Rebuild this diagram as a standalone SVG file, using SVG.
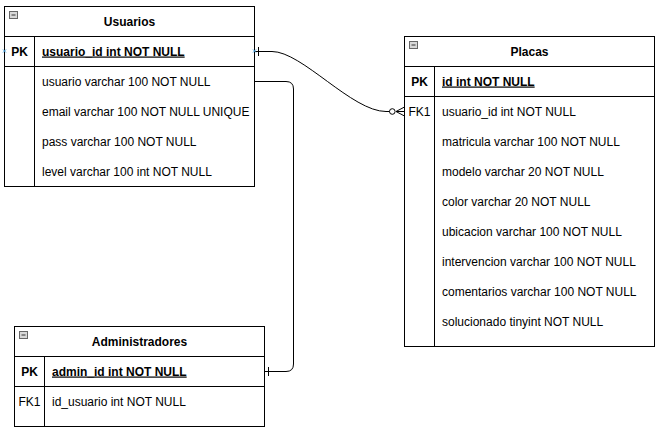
<svg xmlns="http://www.w3.org/2000/svg" width="662" height="432" viewBox="0 0 662 432">
<style>
.box{fill:#fff;stroke:#000;stroke-width:1}
.ln{stroke:#000;stroke-width:1;fill:none}
.t{font-family:"Liberation Sans",Arial,sans-serif;font-size:12px;fill:#000}
.b{font-weight:bold}
.u{text-decoration:underline}
.title{font-family:"Liberation Sans",Arial,sans-serif;font-size:12px;font-weight:bold;text-anchor:middle;fill:#000}
.c{text-anchor:middle}
.icon{fill:#d8d8d8;stroke:#666;stroke-width:1}
.x{stroke:#4aa3df;stroke-width:1}
</style>
<defs>
<g id="minus">
<rect class="icon" x="0" y="0" width="8" height="7"/>
<line x1="2" y1="3.5" x2="6" y2="3.5" stroke="#333" stroke-width="1"/>
</g>
</defs>
<rect width="662" height="432" fill="#fff"/>

<g id="usuarios">
<rect class="box" x="4.5" y="6.5" width="250" height="180"/>
<line class="ln" x1="4.5" y1="36.5" x2="254.5" y2="36.5"/>
<line class="ln" x1="4.5" y1="66.5" x2="254.5" y2="66.5"/>
<line class="ln" x1="34.5" y1="36.5" x2="34.5" y2="186.5"/>
<use href="#minus" x="9.5" y="11.5"/>
<text class="title" x="129.5" y="25.5">Usuarios</text>
<text class="t b c" x="19.5" y="55.5">PK</text>
<text class="t b u" x="42" y="55.5">usuario_id int NOT NULL</text>
<text class="t" x="42" y="85.5">usuario varchar 100 NOT NULL</text>
<text class="t" x="42" y="115.5">email varchar 100 NOT NULL UNIQUE</text>
<text class="t" x="42" y="145.5">pass varchar 100 NOT NULL</text>
<text class="t" x="42" y="175.5">level varchar 100 int NOT NULL</text>
<path class="x" d="M3 49.5l3 3M6 49.5l-3 3"/>
</g>

<g id="placas">
<rect class="box" x="404.5" y="36.5" width="250" height="310"/>
<line class="ln" x1="404.5" y1="66.5" x2="654.5" y2="66.5"/>
<line class="ln" x1="404.5" y1="96.5" x2="654.5" y2="96.5"/>
<line class="ln" x1="434.5" y1="66.5" x2="434.5" y2="346.5"/>
<use href="#minus" x="409.5" y="41.5"/>
<text class="title" x="529.5" y="55.5">Placas</text>
<text class="t b c" x="419.5" y="85.5">PK</text>
<text class="t b u" x="442" y="85.5">id int NOT NULL</text>
<text class="t c" x="419.5" y="115.5">FK1</text>
<text class="t" x="442" y="115.5">usuario_id int NOT NULL</text>
<text class="t" x="442" y="145.5">matricula varchar 100 NOT NULL</text>
<text class="t" x="442" y="175.5">modelo varchar 20 NOT NULL</text>
<text class="t" x="442" y="205.5">color varchar 20 NOT NULL</text>
<text class="t" x="442" y="235.5">ubicacion varchar 100 NOT NULL</text>
<text class="t" x="442" y="265.5">intervencion varchar 100 NOT NULL</text>
<text class="t" x="442" y="295.5">comentarios varchar 100 NOT NULL</text>
<text class="t" x="442" y="325.5">solucionado tinyint NOT NULL</text>
</g>

<g id="administradores">
<rect class="box" x="14.5" y="326.5" width="250" height="100"/>
<line class="ln" x1="14.5" y1="356.5" x2="264.5" y2="356.5"/>
<line class="ln" x1="14.5" y1="386.5" x2="264.5" y2="386.5"/>
<line class="ln" x1="44.5" y1="356.5" x2="44.5" y2="426.5"/>
<use href="#minus" x="19.5" y="331.5"/>
<text class="title" x="139.5" y="345.5">Administradores</text>
<text class="t b c" x="29.5" y="375.5">PK</text>
<text class="t b u" x="52" y="375.5">admin_id int NOT NULL</text>
<text class="t c" x="29.5" y="405.5">FK1</text>
<text class="t" x="52" y="405.5">id_usuario int NOT NULL</text>
</g>

<g id="connectors">
<path class="ln" d="M254.5 51.5 L272 51.5 C302 51.5 352 111.5 386 111.5 L389.5 111.5"/>
<line class="ln" x1="258.5" y1="47" x2="258.5" y2="56"/>
<circle class="ln" cx="392.3" cy="111.5" r="2.8" fill="#fff"/>
<path class="ln" d="M404.5 107 L396 111.5 L404.5 116 M396 111.5 L404.5 111.5"/>
<path class="x" d="M253 49.5l3 3M256 49.5l-3 3"/>
<path class="ln" d="M254.5 81.5 L286 81.5 Q293.5 81.5 293.5 89 L293.5 364 Q293.5 371.5 286 371.5 L264.5 371.5"/>
<line class="ln" x1="268.5" y1="367" x2="268.5" y2="376"/>
</g>
</svg>
